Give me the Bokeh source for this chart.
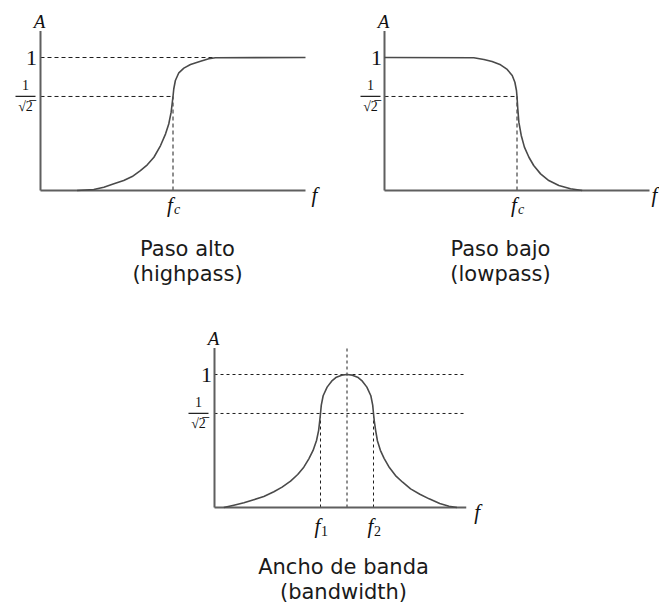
from bokeh.plotting import figure
from bokeh.layouts import row, column
from bokeh.models import Range1d, Label
from bokeh.core.properties import value
from bokeh.embed import file_html
from bokeh.resources import INLINE

# ---- data: normalised amplitude A against frequency f ----
FC = 5.0            # cut-off frequency of the high- and low-pass filters
F1, F0, F2 = 4.0, 5.0, 6.0   # lower cut-off, centre, upper cut-off of the band-pass
HALF_POWER = 0.707  # 1/sqrt(2)
F_MAX = 10.0        # length of the frequency axis (top panels)
F_MAX_BP = 9.5      # length of the frequency axis (band-pass panel)
A_MAX = 1.2         # height of the amplitude axis

hp_f = [1.38, 2.01, 2.39, 2.77, 3.14, 3.46, 3.77, 4.03, 4.28, 4.53, 4.72, 4.84,
        4.93, 5.0, 5.03, 5.09, 5.22, 5.41, 5.66, 6.04, 6.35, 6.6, 10.0]
hp_a = [0.0, 0.008, 0.025, 0.05, 0.075, 0.105, 0.15, 0.193, 0.25, 0.338, 0.426,
        0.5, 0.589, 0.707, 0.765, 0.827, 0.885, 0.92, 0.947, 0.972, 0.99, 0.998,
        1.0]

lp_f = [0.0, 3.37, 3.75, 4.06, 4.38, 4.63, 4.82, 4.92, 4.98, 5.0, 5.03, 5.07,
        5.16, 5.28, 5.45, 5.63, 5.89, 6.2, 6.58, 7.02, 7.46]
lp_a = [1.0, 0.998, 0.985, 0.97, 0.945, 0.91, 0.865, 0.814, 0.752, 0.707, 0.614,
        0.514, 0.414, 0.326, 0.25, 0.188, 0.125, 0.075, 0.038, 0.013, 0.0]

bp_f = [0.35, 0.73, 1.11, 1.48, 1.86, 2.24, 2.55, 2.87, 3.14, 3.37, 3.56, 3.72,
        3.85, 3.93, 3.97, 4.0, 4.03, 4.1, 4.25, 4.42, 4.6, 4.8, 5.0,
        5.2, 5.4, 5.58, 5.75, 5.9, 5.97, 6.0, 6.03, 6.08, 6.15, 6.26, 6.4, 6.6,
        6.83, 7.1, 7.4, 7.75, 8.1, 8.5, 8.85, 9.15]
bp_a = [0.0, 0.017, 0.035, 0.058, 0.083, 0.118, 0.153, 0.198, 0.248, 0.303,
        0.366, 0.429, 0.504, 0.58, 0.65, 0.707, 0.77, 0.84, 0.905, 0.95, 0.98,
        0.995, 1.0,
        0.995, 0.98, 0.95, 0.905, 0.84, 0.77, 0.707, 0.65, 0.58, 0.5, 0.43,
        0.37, 0.3, 0.24, 0.19, 0.14, 0.1, 0.065, 0.03, 0.01, 0.0]

titles = [("Paso alto", "(highpass)"), ("Paso bajo", "(lowpass)"),
          ("Ancho de banda", "(bandwidth)")]

# ---- layout / styling ----
PX_F = 26.5    # pixels per frequency unit
PX_A = 133.0   # pixels per amplitude unit
SERIF = value("Liberation Serif")
SANS = "DejaVu Sans"
AXIS_COL, CURVE_COL, DASH_COL = "#5f5f5f", "#4a4a4a", "#1e1e1e"


def panel(width, height, ox, oy):
    """Blank drawing area whose origin (f=0, A=0) sits at pixel (ox, oy)."""
    p = figure(width=width, height=height, output_backend="svg",
               toolbar_location=None, x_axis_type=None, y_axis_type=None,
               x_range=Range1d(-ox / PX_F, (width - ox) / PX_F),
               y_range=Range1d((oy - height) / PX_A, oy / PX_A),
               min_border=0, outline_line_color=None,
               background_fill_color="white", border_fill_color="white")
    p.grid.visible = False
    return p


def txt(p, x, y, s, dx=0, dy=0, size="20px", font=SERIF, style="italic",
        align="center", baseline="middle", color="#111111"):
    p.text(x=[x], y=[y], text=[s], x_offset=dx, y_offset=dy,
           text_font=font, text_font_style=style, text_font_size=size,
           text_align=align, text_baseline=baseline, text_color=color)


def dashed(p, xs, ys, dash="4 3"):
    p.line(xs, ys, line_color=DASH_COL, line_width=1, line_dash=dash)


def axes(p, f_end, f_label_dx=9):
    p.line([0, 0], [0, A_MAX], line_color=AXIS_COL, line_width=2)
    p.line([0, f_end], [0, 0], line_color=AXIS_COL, line_width=2)
    txt(p, 0, A_MAX, "A", dx=-1, dy=-9, size="19px")
    txt(p, f_end, 0, "f", dx=f_label_dx, dy=4, size="21px")


def level_labels(p, dx_one=-9, dx_frac=-15):
    """Tick labels '1' and the stacked fraction 1/sqrt(2) left of the A axis."""
    txt(p, 0, 1.0, "1", dx=dx_one, size="22px", style="normal")
    txt(p, 0, HALF_POWER, "1", dx=dx_frac, dy=-11, size="14px", style="normal")
    half_bar = 10 / PX_F
    centre = dx_frac / PX_F
    p.segment(x0=[centre - half_bar], y0=[HALF_POWER], x1=[centre + half_bar],
              y1=[HALF_POWER], line_color="#222222", line_width=1.2)
    txt(p, 0, HALF_POWER, "\u221a2\u0305", dx=dx_frac, dy=10, size="14px",
        style="normal")


def f_sub(p, x, sub, dy=14):
    txt(p, x, 0, "f", dx=-3, dy=dy, size="21px")
    txt(p, x, 0, sub, dx=4, dy=dy + 5, size="14px",
        style="italic" if sub == "c" else "normal")


def caption(p, x, y_top, lines):
    h = p.height
    for i, s in enumerate(lines):
        p.add_layout(Label(x=x, y=h - (y_top + 25 * i), x_units="screen",
                           y_units="screen", text=s, text_align="center",
                           text_baseline="middle", text_font=SANS,
                           text_font_size="21px", text_color="#1a1a1a"))


# ---- high-pass ----
p1 = panel(330, 300, 40, 190)
dashed(p1, [0, F_MAX], [1.0, 1.0])
dashed(p1, [0, FC], [HALF_POWER, HALF_POWER])
dashed(p1, [FC, FC], [0, HALF_POWER])
axes(p1, F_MAX)
p1.line(hp_f, hp_a, line_color=CURVE_COL, line_width=1.6, line_join="round")
level_labels(p1)
f_sub(p1, FC, "c")
caption(p1, 187, 248, titles[0])

# ---- low-pass ----
p2 = panel(329, 300, 54, 190)
dashed(p2, [0, FC], [HALF_POWER, HALF_POWER])
dashed(p2, [FC, FC], [0, HALF_POWER])
axes(p2, F_MAX, f_label_dx=5)
p2.line(lp_f, lp_a, line_color=CURVE_COL, line_width=1.6, line_join="round")
level_labels(p2, dx_one=-8, dx_frac=-14)
f_sub(p2, FC, "c")
caption(p2, 170, 248, titles[1])

# ---- band-pass ----
p3 = panel(659, 309, 214, 207)
dashed(p3, [0, F_MAX_BP], [1.0, 1.0], dash="3 3")
dashed(p3, [0, F_MAX_BP], [HALF_POWER, HALF_POWER], dash="3 3")
dashed(p3, [F0, F0], [0, A_MAX], dash="3 3")
dashed(p3, [F1, F1], [0, HALF_POWER], dash="3 3")
dashed(p3, [F2, F2], [0, HALF_POWER], dash="3 3")
axes(p3, F_MAX_BP, f_label_dx=11)
p3.line(bp_f, bp_a, line_color=CURVE_COL, line_width=1.6, line_join="round")
level_labels(p3, dx_one=-8, dx_frac=-16)
f_sub(p3, F1, "1", dy=18)
f_sub(p3, F2, "2", dy=18)
caption(p3, 343, 266, titles[2])

layout = column(row(p1, p2), p3)
open("out.html", "w").write(file_html(layout, INLINE))
